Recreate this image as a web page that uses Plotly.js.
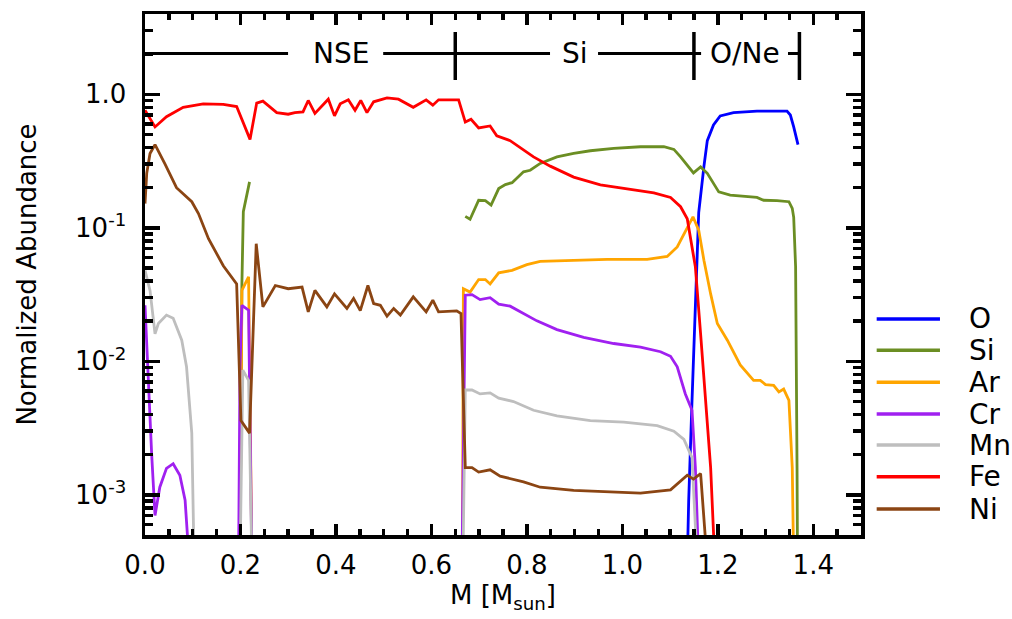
<!DOCTYPE html>
<html>
<head>
<meta charset="utf-8">
<script src="https://cdn.plot.ly/plotly-3.0.1.min.js"></script>
<style>html,body{margin:0;padding:0;background:#fff;}#chart{width:1012px;height:619px;}</style>
</head>
<body>
<div id="chart"></div>
<script>
// ---- data (mass coordinate in M_sun, normalized abundance) ----
const mass_O = [1.136, 1.139, 1.146, 1.153, 1.160, 1.171, 1.178, 1.191, 1.205, 1.233, 1.282, 1.345, 1.352, 1.359, 1.368];
const abund_O = [0.0003, 0.0009, 0.0051, 0.029, 0.13, 0.29, 0.45, 0.59, 0.69, 0.73, 0.75, 0.75, 0.70, 0.57, 0.42];

const mass_Si = [0.199, 0.203, 0.206, 0.219, 0.23, 0.671, 0.681, 0.699, 0.713, 0.725, 0.741, 0.755, 0.769, 0.793, 0.807, 0.828, 0.863, 0.898, 0.933, 0.982, 1.038, 1.087, 1.108, 1.122, 1.149, 1.164, 1.178, 1.202, 1.226, 1.282, 1.296, 1.324, 1.349, 1.356, 1.359, 1.363, 1.365, 1.366, 1.367];
const abund_Si = [0.0003, 0.038, 0.132, 0.221, null, 0.122, 0.116, 0.161, 0.160, 0.148, 0.197, 0.211, 0.218, 0.263, 0.270, 0.304, 0.340, 0.361, 0.378, 0.394, 0.405, 0.405, 0.387, 0.340, 0.258, 0.286, 0.256, 0.186, 0.176, 0.169, 0.161, 0.160, 0.157, 0.140, 0.120, 0.051, 0.0091, 0.0016, 0.0003];

const mass_Ar = [0.199, 0.203, 0.217, 0.224, 0.23, 0.665, 0.667, 0.681, 0.699, 0.713, 0.723, 0.741, 0.769, 0.800, 0.828, 0.898, 0.968, 1.052, 1.094, 1.115, 1.136, 1.148, 1.160, 1.171, 1.185, 1.199, 1.220, 1.247, 1.275, 1.289, 1.300, 1.317, 1.328, 1.338, 1.349, 1.352, 1.356, 1.359];
const abund_Ar = [0.0003, 0.034, 0.043, 0.0003, null, 0.0003, 0.035, 0.033, 0.041, 0.041, 0.038, 0.046, 0.048, 0.053, 0.056, 0.057, 0.058, 0.058, 0.061, 0.072, 0.102, 0.121, 0.096, 0.057, 0.032, 0.0192, 0.0144, 0.0094, 0.0072, 0.0072, 0.0067, 0.0066, 0.0059, 0.0062, 0.0051, 0.0029, 0.0016, 0.0003];

const mass_Cr = [0.000, 0.007, 0.014, 0.021, 0.031, 0.045, 0.059, 0.073, 0.084, 0.093, 0.15, 0.196, 0.199, 0.203, 0.217, 0.224, 0.4, 0.664, 0.671, 0.685, 0.702, 0.723, 0.741, 0.765, 0.793, 0.821, 0.863, 0.919, 0.982, 1.038, 1.080, 1.101, 1.115, 1.132, 1.146, 1.153, 1.160];
const abund_Cr = [0.0263, 0.0064, 0.0020, 0.0007, 0.00114, 0.00158, 0.00171, 0.0014, 0.00091, 0.0003, null, 0.0003, 0.0091, 0.0263, 0.0242, 0.0003, null, 0.0003, 0.0313, 0.0316, 0.029, 0.030, 0.0268, 0.0259, 0.0228, 0.0201, 0.0173, 0.0151, 0.0136, 0.0128, 0.0118, 0.0109, 0.0091, 0.0057, 0.0043, 0.0016, 0.0003];

const mass_Mn = [0.000, 0.0105, 0.021, 0.028, 0.045, 0.059, 0.077, 0.087, 0.098, 0.103, 0.15, 0.199, 0.205, 0.217, 0.224, 0.4, 0.666, 0.671, 0.685, 0.702, 0.723, 0.741, 0.772, 0.814, 0.863, 0.933, 1.003, 1.073, 1.108, 1.129, 1.146, 1.157];
const abund_Mn = [0.048, 0.034, 0.0161, 0.0192, 0.0222, 0.021, 0.0144, 0.0091, 0.0029, 0.0003, null, 0.0003, 0.0086, 0.0072, 0.0003, null, 0.0003, 0.0061, 0.0061, 0.0057, 0.0058, 0.0053, 0.0050, 0.0043, 0.0039, 0.0036, 0.0035, 0.0033, 0.0030, 0.0026, 0.0019, 0.0003];

const mass_Fe = [0.000, 0.021, 0.045, 0.080, 0.122, 0.164, 0.192, 0.220, 0.234, 0.247, 0.276, 0.300, 0.314, 0.331, 0.342, 0.356, 0.384, 0.397, 0.409, 0.426, 0.440, 0.452, 0.465, 0.479, 0.507, 0.531, 0.562, 0.589, 0.603, 0.615, 0.657, 0.671, 0.683, 0.699, 0.723, 0.737, 0.765, 0.786, 0.814, 0.849, 0.898, 0.954, 1.010, 1.066, 1.101, 1.122, 1.136, 1.153, 1.164, 1.174, 1.185, 1.194];
const abund_Fe = [0.76, 0.57, 0.68, 0.80, 0.85, 0.84, 0.81, 0.46, 0.86, 0.89, 0.73, 0.71, 0.73, 0.74, 0.90, 0.72, 0.92, 0.69, 0.85, 0.91, 0.76, 0.90, 0.73, 0.88, 0.94, 0.92, 0.80, 0.91, 0.83, 0.91, 0.91, 0.62, 0.65, 0.56, 0.58, 0.49, 0.45, 0.40, 0.34, 0.29, 0.24, 0.21, 0.196, 0.183, 0.169, 0.144, 0.117, 0.051, 0.016, 0.0051, 0.0016, 0.0003];

const mass_Ni = [0.000, 0.0036, 0.0105, 0.021, 0.042, 0.066, 0.098, 0.112, 0.133, 0.164, 0.192, 0.201, 0.219, 0.233, 0.247, 0.273, 0.300, 0.329, 0.342, 0.356, 0.381, 0.397, 0.423, 0.437, 0.451, 0.467, 0.479, 0.493, 0.507, 0.521, 0.535, 0.562, 0.589, 0.603, 0.615, 0.653, 0.662, 0.671, 0.685, 0.699, 0.723, 0.744, 0.793, 0.828, 0.898, 0.968, 1.038, 1.101, 1.136, 1.149, 1.164, 1.178];
const abund_Ni = [0.152, 0.256, 0.36, 0.42, 0.30, 0.20, 0.157, 0.128, 0.083, 0.052, 0.038, 0.0036, 0.0029, 0.076, 0.0256, 0.037, 0.035, 0.036, 0.0235, 0.034, 0.0256, 0.032, 0.0249, 0.0296, 0.024, 0.037, 0.0271, 0.0263, 0.0218, 0.0249, 0.0222, 0.0304, 0.0235, 0.0287, 0.0235, 0.0239, 0.0228, 0.0016, 0.0016, 0.00148, 0.00154, 0.00138, 0.00125, 0.00114, 0.00108, 0.00105, 0.00103, 0.00109, 0.0014, 0.00131, 0.00144, 0.0003];

const elements = ['O', 'Si', 'Ar', 'Cr', 'Mn', 'Fe', 'Ni'];
const colors = ['#0000ff', '#6b8e23', '#ffa500', '#a020f0', '#bebebe', '#ff0000', '#8b4513'];
const xs = [mass_O, mass_Si, mass_Ar, mass_Cr, mass_Mn, mass_Fe, mass_Ni];
const ys = [abund_O, abund_Si, abund_Ar, abund_Cr, abund_Mn, abund_Fe, abund_Ni];

const zoneLabels = ['NSE', 'Si', 'O/Ne'];
const zoneCenters = [0.411, 0.901, 1.257];
const zoneBounds = [0.65, 1.15, 1.371];
const yTickVals = [1, 0.1, 0.01, 0.001];
const yTickText = ['1.0', '10<sup>-1</sup>', '10<sup>-2</sup>', '10<sup>-3</sup>'];

const FONT = 'DejaVu Sans, Liberation Sans, Arial, sans-serif';
const FS = 26;
const FS2 = 28;

const traces = elements.map((el, i) => ({
  x: xs[i], y: ys[i], name: el, type: 'scatter', mode: 'lines',
  line: {color: colors[i], width: 2.8}, connectgaps: false, showlegend: false
}));

// manual legend on the right side
const legY = [0.4146, 0.3545, 0.2931, 0.2322, 0.1727, 0.1119, 0.0499];
const shapes = [];
const annotations = [];
elements.forEach((el, i) => {
  shapes.push({type: 'line', xref: 'paper', yref: 'paper', x0: 1.0219, x1: 1.1103, y0: legY[i], y1: legY[i],
    line: {color: colors[i], width: 3.5}});
  annotations.push({xref: 'paper', yref: 'paper', x: 1.1476, y: legY[i], xanchor: 'left', yanchor: 'middle',
    text: el, showarrow: false, font: {family: FONT, size: FS2, color: '#000'}});
});

// burning zone bar at top
const barY = 0.9242, barTop = 0.9655, barBot = 0.8733;
const segs = [[0, 0.2997], [0.4990, 0.65], [0.65, 0.8485], [0.9491, 1.15], [1.15, 1.165], [1.347, 1.371]];
segs.forEach(s => shapes.push({type: 'line', xref: 'x', yref: 'paper', x0: s[0], x1: s[1], y0: barY, y1: barY,
  line: {color: '#000', width: 3}}));
zoneBounds.forEach(b => shapes.push({type: 'line', xref: 'x', yref: 'paper', x0: b, x1: b, y0: barBot, y1: barTop,
  line: {color: '#000', width: 3.5}}));
zoneLabels.forEach((t, i) => annotations.push({xref: 'x', yref: 'paper', x: zoneCenters[i], y: barY,
  xanchor: 'center', yanchor: 'middle', text: t, showarrow: false, font: {family: FONT, size: FS2, color: '#000'}}));

const layout = {
  width: 1012, height: 619,
  margin: {l: 145, r: 151, t: 14, b: 84, pad: 0},
  paper_bgcolor: '#fff', plot_bgcolor: '#fff',
  font: {family: FONT, size: FS, color: '#000'},
  showlegend: false,
  xaxis: {
    range: [0, 1.5], tick0: 0, dtick: 0.2, tickformat: '.1f',
    showgrid: false, zeroline: false,
    showline: true, linecolor: '#000', linewidth: 3.5, mirror: 'allticks',
    ticks: 'inside', ticklen: 11, tickwidth: 3.5, tickcolor: '#000',
    minor: {dtick: 0.05, ticks: 'inside', ticklen: 6, tickwidth: 3.5, tickcolor: '#000', showgrid: false},
    tickfont: {family: FONT, size: FS}, ticklabelstandoff: 4,
    title: {text: 'M [M<sub>sun</sub>]', font: {family: FONT, size: FS}, standoff: 8}
  },
  yaxis: {
    type: 'log', range: [Math.log10(5e-4), Math.log10(4)],
    tickvals: yTickVals, ticktext: yTickText,
    showgrid: false, zeroline: false,
    showline: true, linecolor: '#000', linewidth: 3.5, mirror: 'allticks',
    ticks: 'inside', ticklen: 15, tickwidth: 3.5, tickcolor: '#000',
    minor: {dtick: 'D1', ticks: 'inside', ticklen: 8, tickwidth: 3.5, tickcolor: '#000', showgrid: false},
    tickfont: {family: FONT, size: FS}, ticklabelstandoff: 10,
    title: {text: 'Normalized Abundance', font: {family: FONT, size: FS}, standoff: 32}
  },
  shapes: shapes,
  annotations: annotations
};

Plotly.newPlot('chart', traces, layout, {staticPlot: true, displayModeBar: false});
</script>
</body>
</html>
